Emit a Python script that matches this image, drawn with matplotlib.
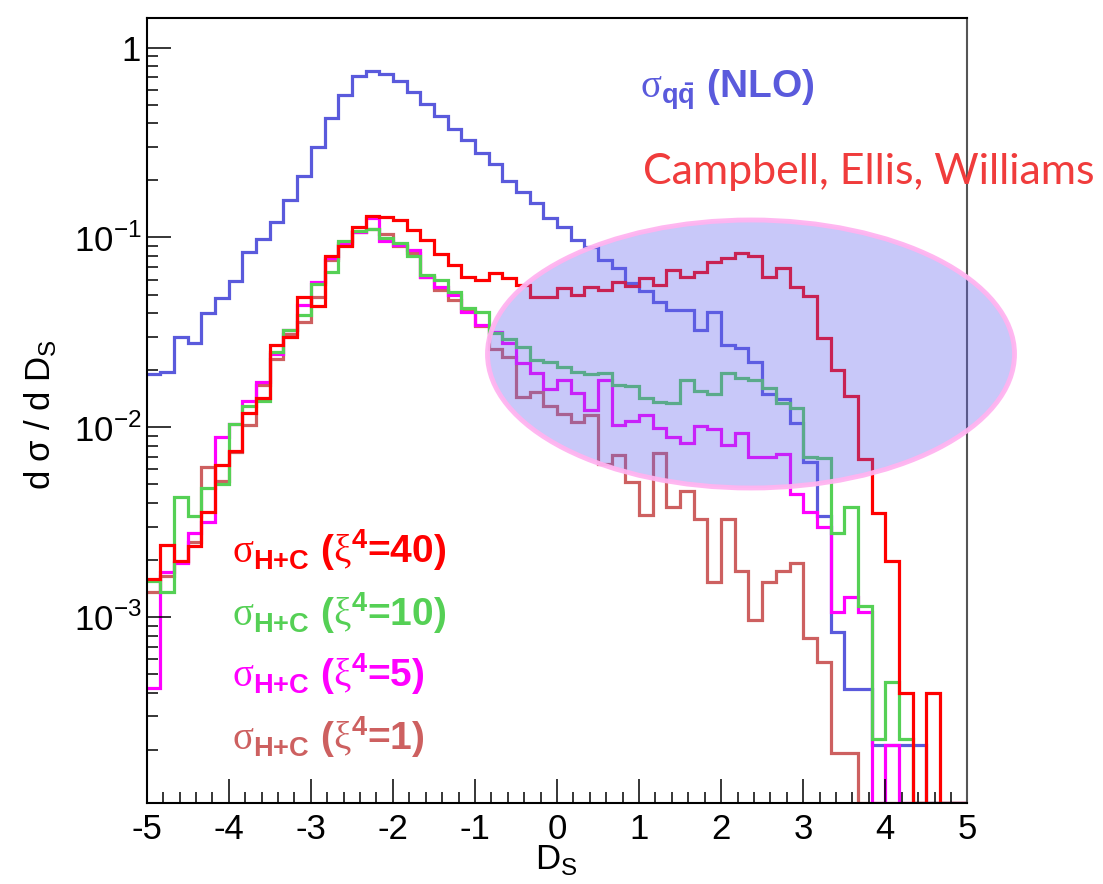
import numpy as np
import matplotlib
matplotlib.use("Agg")
import matplotlib.pyplot as plt
from matplotlib.patches import Ellipse
from matplotlib.ticker import LogLocator, NullFormatter, MultipleLocator

plt.rcParams['font.family'] = ['Liberation Sans', 'DejaVu Sans']
plt.rcParams['mathtext.fontset'] = 'custom'
plt.rcParams['mathtext.rm'] = 'Liberation Serif'
plt.rcParams['mathtext.sf'] = 'Liberation Sans'
plt.rcParams['mathtext.bf'] = 'Liberation Sans:bold'
plt.rcParams['axes.unicode_minus'] = False

# 60 bins from -5 to 5
edges = np.linspace(-5, 5, 61)

nlo = [0.0191, 0.0195, 0.030, 0.0277, 0.0398, 0.0481, 0.0589, 0.0834, 0.0976, 0.121,
       0.157, 0.210, 0.300, 0.426, 0.561, 0.709, 0.753, 0.729, 0.667, 0.584,
       0.503, 0.436, 0.371, 0.325, 0.277, 0.245, 0.199, 0.174, 0.151, 0.127,
       0.114, 0.0968, 0.0893, 0.0760, 0.0687, 0.0573, 0.0522, 0.0458, 0.0414, 0.0414,
       0.0325, 0.0406, 0.0271, 0.0263, 0.0221, 0.0149, 0.0141, 0.0105, 0.00659, 0.00339,
       8.4e-4, 4.18e-4, 4.18e-4, 2.13e-4, 2.13e-4, 2.13e-4, 2.13e-4, 0, 0, 0]

xi40 = [1.58e-3, 2.40e-3, 1.98e-3, 2.37e-3, 3.56e-3, 6.35e-3, 7.5e-3, 0.0119, 0.0142, 0.0270,
        0.0300, 0.0485, 0.0435, 0.0800, 0.0900, 0.114, 0.130, 0.128, 0.123, 0.109,
        0.0964, 0.082, 0.0715, 0.0620, 0.0596, 0.0651, 0.0608, 0.0561, 0.0487, 0.0487,
        0.0539, 0.0497, 0.0550, 0.0528, 0.0584, 0.0555, 0.0608, 0.0561, 0.0673, 0.0620,
        0.0659, 0.0744, 0.0775, 0.0830, 0.0797, 0.0620, 0.0687, 0.0550, 0.0490, 0.0294,
        0.0200, 0.0146, 0.0068, 0.00355, 1.98e-3, 3.98e-4, 0, 3.98e-4, 0, 0]

xi10 = [1.55e-3, 1.36e-3, 4.31e-3, 3.41e-3, 4.77e-3, 5.0e-3, 0.0104, 0.0130, 0.0138, 0.0250,
        0.0325, 0.0390, 0.0568, 0.0659, 0.0960, 0.108, 0.111, 0.0988, 0.0929, 0.0797,
        0.0633, 0.0596, 0.0517, 0.0423, 0.0406, 0.0312, 0.0291, 0.0266, 0.0226, 0.0222,
        0.0208, 0.0196, 0.0191, 0.0194, 0.0167, 0.0165, 0.0143, 0.0136, 0.0134, 0.0178,
        0.0156, 0.0150, 0.0192, 0.0181, 0.0178, 0.0162, 0.0134, 0.0127, 0.0070, 0.00686,
        2.77e-3, 3.82e-3, 1.14e-3, 2.28e-4, 4.58e-4, 2.28e-4, 0, 0, 0, 0]

xi5 = [4.26e-4, 1.72e-3, 1.92e-3, 2.77e-3, 3.19e-3, 8.93e-3, 0.0104, 0.0138, 0.0174, 0.0243,
       0.0325, 0.0440, 0.0584, 0.0775, 0.0937, 0.107, 0.126, 0.0960, 0.0910, 0.0858,
       0.0620, 0.0546, 0.0500, 0.0406, 0.0345, 0.0319, 0.0277, 0.0217, 0.0194, 0.0160,
       0.0178, 0.0152, 0.0123, 0.0178, 0.0103, 0.0108, 0.0116, 0.00987, 0.00893, 0.0083,
       0.0102, 0.00976, 0.00807, 0.00929, 0.0070, 0.0070, 0.00723, 0.00446, 0.0036, 0.0030,
       1.06e-3, 1.28e-3, 1.06e-3, 0, 2.13e-4, 0, 0, 0, 0, 0]

xi1 = [1.35e-3, 1.65e-3, 1.95e-3, 2.50e-3, 6.2e-3, 5.24e-3, 7.44e-3, 0.0103, 0.0167, 0.0228,
       0.0310, 0.0360, 0.0483, 0.0760, 0.0910, 0.107, 0.111, 0.104, 0.090, 0.083,
       0.062, 0.0528, 0.0470, 0.0410, 0.0340, 0.0257, 0.0235, 0.0144, 0.0154, 0.0129,
       0.0118, 0.0106, 0.0116, 6.39e-3, 7.15e-3, 5.17e-3, 3.45e-3, 7.35e-3, 3.82e-3, 4.64e-3,
       3.28e-3, 1.54e-3, 3.28e-3, 1.74e-3, 9.68e-4, 1.54e-3, 1.74e-3, 1.94e-3, 7.75e-4, 5.84e-4,
       1.92e-4, 1.92e-4, 0, 0, 0, 0, 0, 0, 0, 0]

c_nlo = '#5a5adc'
c40 = '#ff0000'
c10 = '#55d055'
c5 = '#ff00ff'
c1 = '#cd6060'

ymin, ymax = 1.05e-4, 1.43

fig = plt.figure(figsize=(11.03, 8.84), dpi=100)
ax = fig.add_axes([0.133, 0.0916, 0.744, 0.888])

# empty bins sit on the axis like in ROOT
for vals, col in [(nlo, c_nlo), (xi1, c1), (xi5, c5), (xi10, c10), (xi40, c40)]:
    v = np.clip(np.array(vals), ymin, None)
    ax.stairs(v, edges, baseline=None, color=col, lw=2.3)

ax.set_yscale('log')
ax.set_xlim(-5, 5)
ax.set_ylim(ymin, ymax)

ax.set_xticks(np.arange(-5, 6, 1))
ax.xaxis.set_minor_locator(MultipleLocator(0.2))
ax.set_yticks([1e-3, 1e-2, 1e-1, 1])
ax.set_yticklabels([r'10$^{\mathsf{-3}}$', r'10$^{\mathsf{-2}}$', r'10$^{\mathsf{-1}}$', '1'])
ax.yaxis.set_minor_locator(LogLocator(base=10, subs=np.arange(2, 10)))
ax.yaxis.set_minor_formatter(NullFormatter())
ax.tick_params(which='both', direction='in', top=False, right=False, width=1.1, labelsize=25)
ax.tick_params(which='major', length=17)
ax.tick_params(which='minor', length=8)
ax.tick_params(axis='y', pad=4)
ax.tick_params(axis='x', pad=7)
for s in ax.spines.values():
    s.set_linewidth(1.5)
ax.spines['right'].set_color('#555555')

fig.text(40/1103, 1-415/884, r'd σ / d D$_{\mathsf{S}}$', rotation=90, fontsize=25, ha='center', va='center')
fig.text(556/1103, 1-860/884, r'D$_{\mathsf{S}}$', fontsize=25, ha='center', va='center')

# highlight ellipse, drawn over the curves and past the frame
ell = Ellipse((751/1103, 1-354/884), 527/1103, 268/884, transform=fig.transFigure,
              facecolor=(100/255, 100/255, 240/255, 0.35), edgecolor=(1.0, 0.7, 0.94, 0.95),
              lw=3.5, zorder=5, clip_on=False)
ax.add_patch(ell)

fig.text(640/1103, 1-98/884, r'$\mathrm{\sigma}_{\mathbf{q\bar{q}}}$ (NLO)', color=c_nlo,
         fontsize=28, fontweight='bold', ha='left', va='baseline')
fig.text(643/1103, 1-184/884, 'Campbell, Ellis, Williams', color='#f03c3c',
         fontsize=31, family='Lato', ha='left', va='baseline')

labels = [(r'$\mathrm{\sigma}_{\mathbf{H{+}C}}$ ($\mathrm{\xi}^{\mathbf{4}}$=40)', c40, 563),
          (r'$\mathrm{\sigma}_{\mathbf{H{+}C}}$ ($\mathrm{\xi}^{\mathbf{4}}$=10)', c10, 626),
          (r'$\mathrm{\sigma}_{\mathbf{H{+}C}}$ ($\mathrm{\xi}^{\mathbf{4}}$=5)', c5, 687),
          (r'$\mathrm{\sigma}_{\mathbf{H{+}C}}$ ($\mathrm{\xi}^{\mathbf{4}}$=1)', c1, 750)]
for txt, col, yb in labels:
    fig.text(232/1103, 1-yb/884, txt, color=col, fontsize=28, fontweight='bold',
             ha='left', va='baseline')

fig.savefig('out.png', dpi=100)
